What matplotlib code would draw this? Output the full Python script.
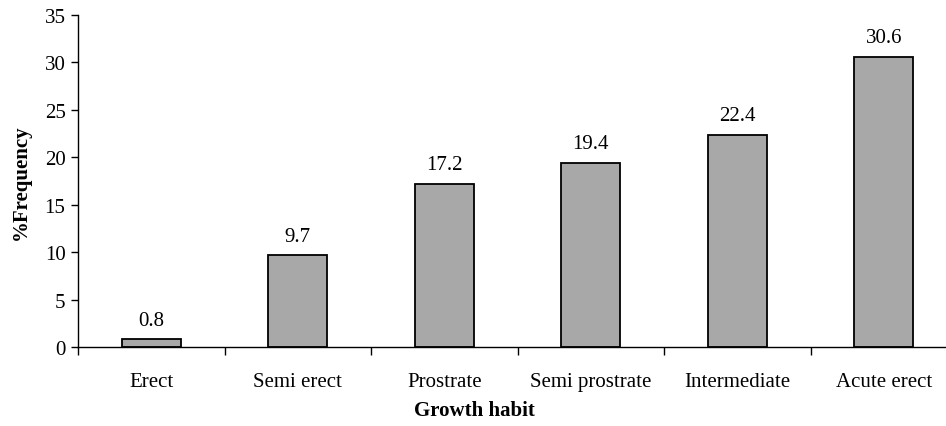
import numpy as np
import matplotlib

matplotlib.use("Agg")
import matplotlib.pyplot as plt  # noqa: E402
from matplotlib.ticker import FixedLocator  # noqa: E402

HABITS = ["Erect", "Semi erect", "Prostrate", "Semi prostrate",
          "Intermediate", "Acute erect"]
FREQ = [0.8, 9.7, 17.2, 19.4, 22.4, 30.6]

plt.rcParams["font.family"] = ["Liberation Serif", "DejaVu Serif"]
FS = 15

fig = plt.figure(figsize=(9.46, 4.27), dpi=100)
ax = fig.add_axes([78 / 946, 79 / 427, (957 - 78) / 946, (348 - 16) / 427])

x = np.arange(len(HABITS))
ax.bar(x, FREQ, width=0.4, color="#a8a8a8", edgecolor="black", linewidth=1.3,
       zorder=2)
for xi, v in zip(x, FREQ):
    ax.text(xi, v + 1.0, f"{v}", ha="center", va="bottom", fontsize=FS)

ax.set_xlim(-0.5, len(HABITS) - 0.5)
ax.set_ylim(0, 35)
ax.set_yticks(range(0, 36, 5))
ax.set_xticks(x)
ax.set_xticklabels(HABITS, fontsize=FS)
ax.xaxis.set_minor_locator(FixedLocator(np.arange(-0.5, len(HABITS), 1.0)))
ax.tick_params(axis="x", which="major", length=0, pad=18)
ax.tick_params(axis="x", which="minor", length=6, width=1, direction="out")
ax.tick_params(axis="y", labelsize=FS, length=5, width=1, direction="out", pad=4)

for s in ("top", "right"):
    ax.spines[s].set_visible(False)
for s in ("left", "bottom"):
    ax.spines[s].set_linewidth(1)

ax.set_ylabel("%Frequency", fontsize=FS, fontweight="bold", labelpad=10)
ax.set_xlabel("Growth habit", fontsize=FS, fontweight="bold")
# center x label on visible figure width rather than clipped axes
ax.xaxis.set_label_coords((474 - 78) / (957 - 78), -0.16)

fig.savefig("out.png", dpi=100)
